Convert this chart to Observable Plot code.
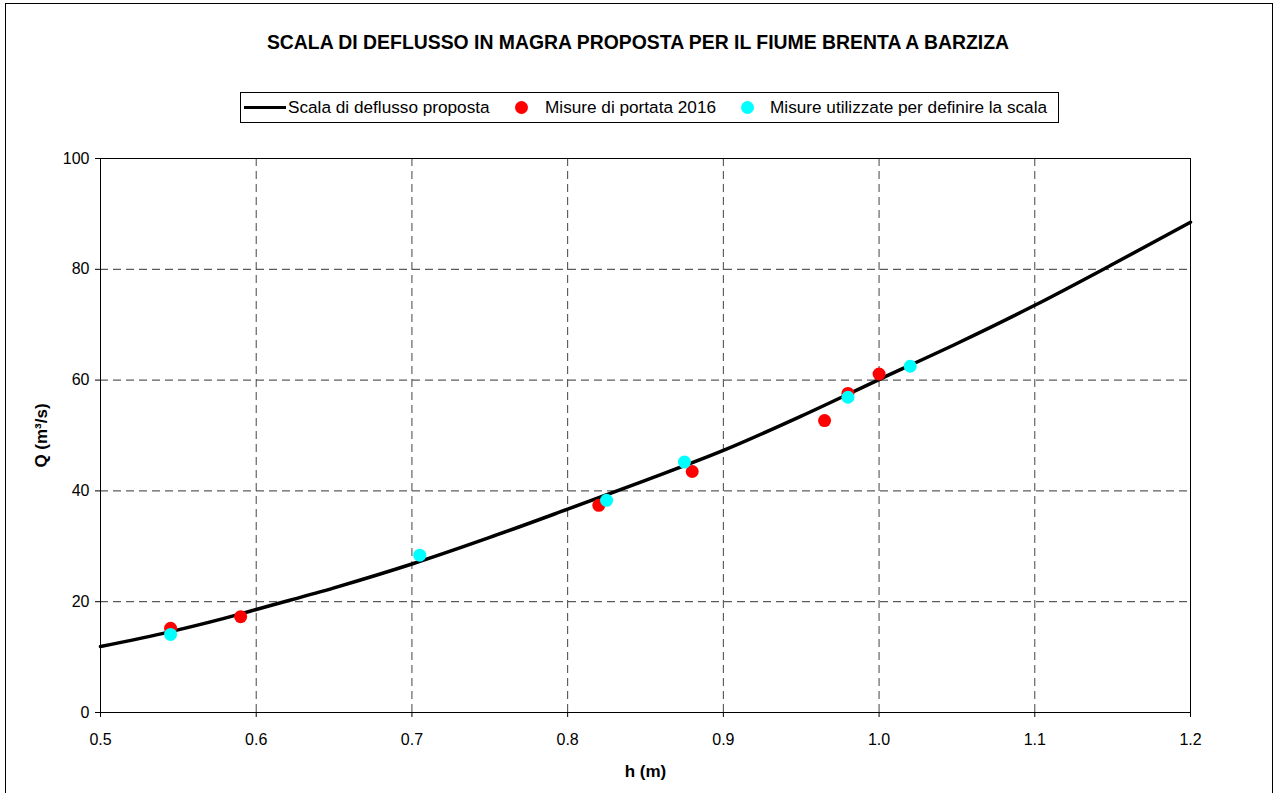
<!DOCTYPE html>
<html>
<head>
<meta charset="utf-8">
<script src="https://cdn.jsdelivr.net/npm/d3@7"></script>
<script src="https://cdn.jsdelivr.net/npm/@observablehq/plot@0.6"></script>
<style>
  html, body { margin: 0; padding: 0; background: #fff; width: 1274px; height: 793px; overflow: hidden; }
  body { position: relative; font-family: "Liberation Sans", Arial, sans-serif; }
  #border { position: absolute; left: 5px; top: 3px; width: 1266px; height: 820px; border: 1px solid #000; }
  #title { position: absolute; left: 5px; width: 1266px; top: 31px; text-align: center; font-weight: bold; font-size: 19.4px; color: #000; }
  #legend { position: absolute; left: 240px; top: 92px; width: 817px; height: 29px; border: 1px solid #000; font-size: 17.2px; color: #000; }
  #legend .it { position: absolute; top: 4px; white-space: nowrap; }
  #legend .ln { position: absolute; top: 13px; left: 3px; width: 42px; height: 3px; background: #000; }
  #legend .dot { position: absolute; top: 8px; width: 13px; height: 13px; border-radius: 50%; }
  #chart { position: absolute; left: 0; top: 130px; }
  #chart g[aria-label="x-axis label"] text, #chart g[aria-label="y-axis label"] text { font-weight: bold; font-size: 17px; }
</style>
</head>
<body>
<div id="border"></div>
<div id="title">SCALA DI DEFLUSSO IN MAGRA PROPOSTA PER IL FIUME BRENTA A BARZIZA</div>
<div id="legend">
  <div class="ln"></div>
  <span class="it" style="left:47px">Scala di deflusso proposta</span>
  <div class="dot" style="left:274px;background:#ff0000"></div>
  <span class="it" style="left:304px">Misure di portata 2016</span>
  <div class="dot" style="left:500px;background:#00ffff"></div>
  <span class="it" style="left:529px">Misure utilizzate per definire la scala</span>
</div>
<div id="chart"></div>
<script>
// Rating curve (h in m, Q in m3/s)
const curveH = [0.5, 0.545, 0.59, 0.6, 0.65, 0.7, 0.75, 0.8, 0.85, 0.9, 0.95, 1.0, 1.05, 1.1, 1.15, 1.2];
const curveQ = [11.9, 14.6, 17.8, 18.6, 22.5, 26.8, 31.6, 36.7, 41.9, 47.3, 53.5, 60.1, 66.6, 73.5, 80.9, 88.5];

// Misure di portata 2016 (red)
const redH = [0.545, 0.59, 0.82, 0.88, 0.965, 0.98, 1.0];
const redQ = [15.2, 17.3, 37.4, 43.5, 52.7, 57.6, 61.1];

// Misure utilizzate per definire la scala (cyan)
const cyanH = [0.545, 0.705, 0.825, 0.875, 0.98, 1.02];
const cyanQ = [14.1, 28.4, 38.3, 45.2, 56.9, 62.5];

const xTicks = [0.5, 0.6, 0.7, 0.8, 0.9, 1.0, 1.1, 1.2];
const yTicks = [0, 20, 40, 60, 80, 100];

const curve = curveH.map((h, i) => ({h, q: curveQ[i]}));
const red = redH.map((h, i) => ({h, q: redQ[i]}));
const cyan = cyanH.map((h, i) => ({h, q: cyanQ[i]}));

const plot = Plot.plot({
  width: 1274,
  height: 663,
  marginLeft: 100,
  marginRight: 84,
  marginTop: 28,
  marginBottom: 81,
  style: {fontFamily: "'Liberation Sans', Arial, sans-serif", fontSize: "16px", color: "#000", background: "transparent"},
  x: {domain: [0.5, 1.2], ticks: xTicks, tickFormat: d3.format(".1f"), label: "h (m)", labelAnchor: "center", labelArrow: "none", labelOffset: 64, tickSize: 5, tickPadding: 16},
  y: {domain: [0, 100], ticks: yTicks, label: "Q (m³/s)", labelAnchor: "center", labelArrow: "none", labelOffset: 66, tickSize: 5, tickPadding: 6},
  marks: [
    Plot.gridY(yTicks.filter(d => d > 0 && d < 100), {stroke: "#333", strokeOpacity: 1, strokeDasharray: "8,5"}),
    Plot.gridX(xTicks.filter(d => d > 0.5 && d < 1.2), {stroke: "#444", strokeOpacity: 1, strokeDasharray: "8,5"}),
    Plot.frame({stroke: "#000"}),
    Plot.line(curve, {x: "h", y: "q", stroke: "#000", strokeWidth: 3.5, curve: "monotone-x"}),
    Plot.dot(red, {x: "h", y: "q", r: 6.5, fill: "#ff0000", stroke: "none"}),
    Plot.dot(cyan, {x: "h", y: "q", r: 6.5, fill: "#00ffff", stroke: "none"})
  ]
});
document.getElementById("chart").appendChild(plot);
</script>
</body>
</html>
